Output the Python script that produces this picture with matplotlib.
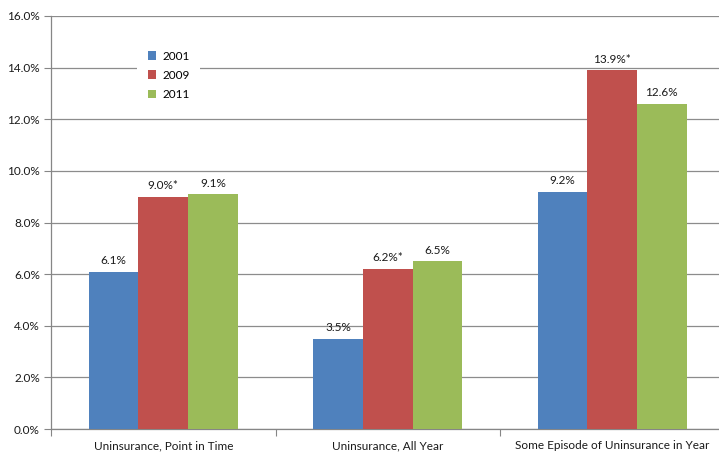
import matplotlib
matplotlib.use("Agg")
import matplotlib.pyplot as plt
import numpy as np

categories = ["Uninsurance, Point in Time", "Uninsurance, All Year",
              "Some Episode of Uninsurance in Year"]
years = ["2001", "2009", "2011"]
values = {
    "2001": [6.1, 3.5, 9.2],
    "2009": [9.0, 6.2, 13.9],
    "2011": [9.1, 6.5, 12.6],
}
labels = {
    "2001": ["6.1%", "3.5%", "9.2%"],
    "2009": ["9.0%*", "6.2%*", "13.9%*"],
    "2011": ["9.1%", "6.5%", "12.6%"],
}
colors = {"2001": "#4F81BD", "2009": "#C0504D", "2011": "#9BBB59"}
yticks = [0, 2, 4, 6, 8, 10, 12, 14, 16]

plt.rcParams["font.family"] = ["Lato", "DejaVu Sans"]

W, H = 719, 454
fig = plt.figure(figsize=(W / 100, H / 100), dpi=100)
ax = fig.add_axes([51 / W, 25 / H, (724.5 - 51) / W, 413 / H])

x = np.arange(len(categories))
bw = 0.221
handles = []
for i, yr in enumerate(years):
    pos = x + (i - 1) * bw
    b = ax.bar(pos, values[yr], width=bw, color=colors[yr], label=yr,
               edgecolor="none", zorder=3)
    handles.append(b)
    for px, v, t in zip(pos, values[yr], labels[yr]):
        ax.annotate(t, (px, v), xytext=(0, 4), textcoords="offset points",
                    ha="center", va="bottom", fontsize=8.5, color="#1a1a1a")

ax.set_xlim(-0.5, 2.5)
ax.set_ylim(0, 16)
ax.set_yticks(yticks)
ax.set_yticklabels([f"{t:.1f}%" for t in yticks], fontsize=8.5, color="#1a1a1a")
ax.set_xticks([-0.5, 0.5, 1.5, 2.5], minor=False)
ax.set_xticklabels([])
ax.set_xticks(x, minor=True)
ax.set_xticklabels(categories, minor=True, fontsize=8.5, color="#1a1a1a")
ax.tick_params(axis="x", which="minor", length=0, pad=8)
ax.tick_params(axis="x", which="major", length=5, color="#868686", direction="out")
ax.tick_params(axis="y", length=5, color="#868686", pad=3)

ax.grid(axis="y", color="#8c8c8c", linewidth=0.9, zorder=0)
for s in ["top", "right"]:
    ax.spines[s].set_visible(False)
for s in ["left", "bottom"]:
    ax.spines[s].set_color("#868686")
    ax.spines[s].set_linewidth(0.9)

leg = fig.legend(handles=handles, labels=years, loc="upper left",
                 bbox_to_anchor=(137 / W, 1 - 40 / H), borderaxespad=0,
                 frameon=True, fancybox=False, fontsize=8.5,
                 handlelength=0.75, handleheight=0.75, handletextpad=0.5,
                 labelspacing=0.7, borderpad=0.9)
leg.get_frame().set_facecolor("white")
leg.get_frame().set_edgecolor("none")
leg.get_frame().set_alpha(1)

fig.savefig("out.png", dpi=100)
